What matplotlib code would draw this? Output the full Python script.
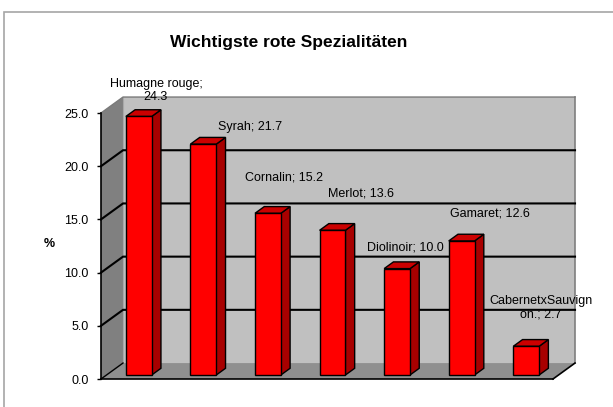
import matplotlib
matplotlib.use("Agg")
import matplotlib.pyplot as plt
from matplotlib.patches import Polygon, Rectangle

plt.rcParams['font.family'] = ['Liberation Sans', 'DejaVu Sans']

# data
categories = ["Humagne rouge", "Syrah", "Cornalin", "Merlot", "Diolinoir", "Gamaret", "CabernetxSauvignon."]
values = [24.3, 21.7, 15.2, 13.6, 10.0, 12.6, 2.7]
label_text = ["Humagne rouge;\n24.3", "Syrah; 21.7", "Cornalin; 15.2", "Merlot; 13.6",
              "Diolinoir; 10.0", "Gamaret; 12.6", "CabernetxSauvign\non.; 2.7"]
# where excel put the data labels (data units)
label_x = [0.85, 2.31, 2.83, 4.03, 4.71, 6.02, 6.81]
label_y = [27.1, 23.7, 18.9, 17.4, 12.4, 15.6, 6.7]
yticks = [0, 5, 10, 15, 20, 25]
ymax = 25

# 3d look
DX = 0.341   # depth offset in x (categories)
DY = 1.50    # depth offset in y (value units)
F0 = 0.25    # bar front position in depth
FD = 0.42    # bar depth
BW = 0.4     # bar width

fig = plt.figure(figsize=(6.13, 4.07), dpi=100)
fig.patch.set_facecolor("white")

# outer frame (cut at right/bottom)
fig.patches.append(Rectangle((4/613, -0.2), 1.2, 1.2 - 12/407, transform=fig.transFigure,
                             fill=False, edgecolor="#a6a6a6", lw=1.2))

ax = fig.add_axes([101/613, 28/407, 452/613, 266/407])
ax.set_facecolor("none")
ax.set_xlim(0, len(values))
ax.set_ylim(0, ymax)
n = len(values)

# walls and floor
ax.add_patch(Polygon([(0, 0), (DX, DY), (DX, ymax + DY), (0, ymax)],
                     facecolor="#808080", edgecolor="none", clip_on=False, zorder=1))
ax.add_patch(Polygon([(DX, DY), (n + DX, DY), (n + DX, ymax + DY), (DX, ymax + DY)],
                     facecolor="#c0c0c0", edgecolor="none", clip_on=False, zorder=1))
ax.add_patch(Polygon([(0, 0), (n, 0), (n + DX, DY), (DX, DY)],
                     facecolor="#8f8f8f", edgecolor="none", clip_on=False, zorder=1))
ax.plot([n + DX, n + DX], [DY, ymax + DY], color="#7f7f7f", lw=1.2, clip_on=False, zorder=1.5)
ax.plot([DX, DX], [DY, ymax + DY], color="#a8a8a8", lw=0.8, clip_on=False, zorder=1.5)
ax.plot([0, DX, n + DX], [ymax, ymax + DY, ymax + DY], color="#7a7a7a", lw=1.0,
        clip_on=False, zorder=1.6)
ax.plot([n, n + DX], [0, DY], color="black", lw=1.2, clip_on=False, zorder=2)

# gridlines
for t in yticks[1:-1]:
    ax.plot([0, DX, n + DX], [t, t + DY, t + DY], color="black", lw=1.5,
            clip_on=False, zorder=2, solid_joinstyle="miter")
ax.plot([0, DX], [0, DY], color="black", lw=1.0, clip_on=False, zorder=2)

# bars
for i, v in enumerate(values):
    x0 = i + 0.5 - BW / 2 + F0 * DX
    b = F0 * DY
    ddx, ddy = FD * DX, FD * DY
    ax.add_patch(Polygon([(x0 + BW, b), (x0 + BW + ddx, b + ddy), (x0 + BW + ddx, b + v + ddy), (x0 + BW, b + v)],
                         facecolor="#a80000", edgecolor="black", lw=1.0, clip_on=False, zorder=3))
    ax.add_patch(Polygon([(x0, b + v), (x0 + BW, b + v), (x0 + BW + ddx, b + v + ddy), (x0 + ddx, b + v + ddy)],
                         facecolor="#cc0000", edgecolor="black", lw=1.0, clip_on=False, zorder=3))
    ax.add_patch(Rectangle((x0, b), BW, v, facecolor="#ff0000", edgecolor="black",
                           lw=1.0, clip_on=False, zorder=3.5))

# data labels
for t, lx, ly in zip(label_text, label_x, label_y):
    ax.text(lx, ly, t, ha="center", va="center", multialignment="center",
            fontsize=9, color="black", zorder=5, linespacing=1.1)

for s in ["top", "right"]:
    ax.spines[s].set_visible(False)
ax.spines["left"].set_linewidth(1.2)
ax.spines["bottom"].set_linewidth(1.2)
ax.spines["left"].set_zorder(4)
ax.spines["bottom"].set_zorder(4)
ax.set_xticks([])
ax.set_yticks(yticks)
ax.set_yticklabels([f"{t:.1f}" for t in yticks], fontsize=9)
ax.tick_params(axis="y", length=3, width=1, pad=6, direction="out")

fig.text(49.6/613, 1 - 244/407, "%", ha="center", va="center", fontsize=9, fontweight="bold")
fig.text(289/613, 1 - 42/407, "Wichtigste rote Spezialitäten", ha="center", va="center",
         fontsize=12.5, fontweight="bold")

fig.savefig("out.png", dpi=100, facecolor="white")
